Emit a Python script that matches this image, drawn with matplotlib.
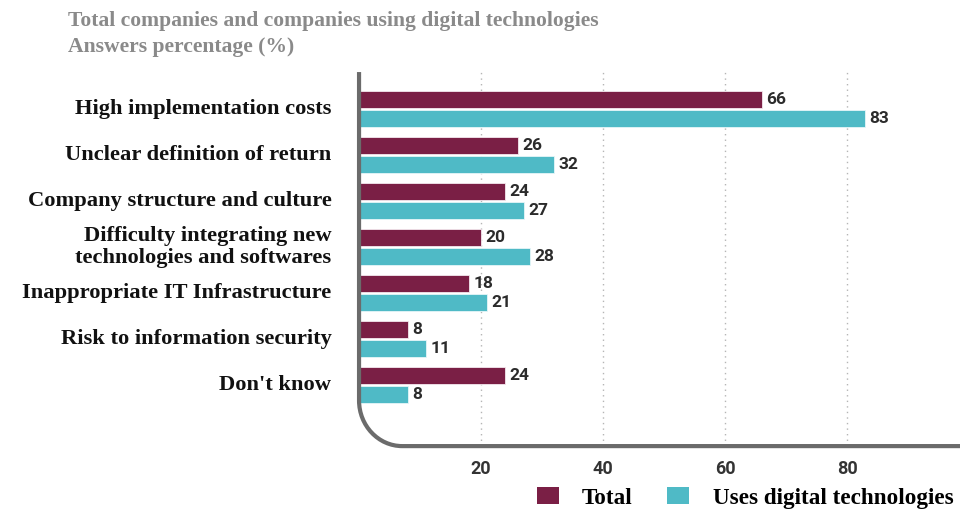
import numpy as np
import matplotlib.pyplot as plt
from matplotlib.path import Path
from matplotlib.patches import PathPatch, Patch

# ====================== DATA ======================
categories = [
    "High implementation costs",
    "Unclear definition of return",
    "Company structure and culture",
    "Difficulty integrating new\ntechnologies and softwares",
    "Inappropriate IT Infrastructure",
    "Risk to information security",
    "Don't know",
]
total = [66, 26, 24, 20, 18, 8, 24]
digital = [83, 32, 27, 28, 21, 11, 8]
x_ticks = [20, 40, 60, 80]

MAROON = "#7a1f45"
TEAL = "#4fbac6"
FRAME = "#6b6b6b"
SERIF = ["Liberation Serif", "DejaVu Serif"]
NARROW = ["Roboto", "DejaVu Sans"]

fig = plt.figure(figsize=(9.6, 5.11), dpi=100)
ax = fig.add_axes([0.374, 0.127, 0.626, 0.732])

y = np.arange(len(categories))
h = 0.37
off = 0.21
ax.barh(y - off, total, height=h, color=MAROON, edgecolor="#f4e8ee", linewidth=0.6, zorder=3)
ax.barh(y + off, digital, height=h, color=TEAL, edgecolor="#e6f6f8", linewidth=0.6, zorder=3)

for yi, t, d in zip(y, total, digital):
    ax.text(t + 0.7, yi - off, str(t), va="center", ha="left", fontsize=12.5,
            fontweight="bold", family=NARROW, color="#2b2b2b")
    ax.text(d + 0.7, yi + off, str(d), va="center", ha="left", fontsize=12.5,
            fontweight="bold", family=NARROW, color="#2b2b2b")

ax.set_xlim(0, 98.5)
ax.set_ylim(7.33, -0.80)
ax.set_xticks(x_ticks)
ax.set_xticklabels([str(v) for v in x_ticks], fontsize=13, fontweight="bold",
                   family=NARROW, color="#333333")
ax.tick_params(axis="x", length=0, pad=10)
ax.set_yticks([])
ax.grid(axis="x", linestyle=(0, (1, 3)), color="#b5b5b5", linewidth=1, zorder=0)
for s in ax.spines.values():
    s.set_visible(False)

# category labels
for yi, cat in zip(y, categories):
    ax.text(-0.046, yi, cat, transform=ax.get_yaxis_transform(), ha="right", va="center",
            fontsize=16.2, fontweight="bold", family=SERIF, color="#111111",
            linespacing=1.15)

# rounded frame (left + bottom)
rx, ry = 0.072, 0.122
k = 0.552
verts = [(0, 1), (0, ry), (0, ry * (1 - k)), (rx * (1 - k), 0), (rx, 0), (1, 0)]
codes = [Path.MOVETO, Path.LINETO, Path.CURVE4, Path.CURVE4, Path.CURVE4, Path.LINETO]
ax.add_patch(PathPatch(Path(verts, codes), transform=ax.transAxes, fill=False,
                       edgecolor=FRAME, linewidth=3, clip_on=False, zorder=4))

# title
fig.text(0.071, 0.958, "Total companies and companies using digital technologies",
         fontsize=15.6, fontweight="bold", family=SERIF, color="#8a8a8a", va="center")
fig.text(0.071, 0.908, "Answers percentage (%)",
         fontsize=15.6, fontweight="bold", family=SERIF, color="#8a8a8a", va="center")

# legend
handles = [Patch(facecolor=MAROON, label="Total"),
           Patch(facecolor=TEAL, label="Uses digital technologies")]
fig.legend(handles=handles, loc="center left", bbox_to_anchor=(0.559, 0.025), ncol=2,
           frameon=False, borderpad=0, borderaxespad=0, handlelength=0.95, handleheight=0.75,
           handletextpad=1.0, columnspacing=1.5,
           prop={"family": SERIF, "weight": "bold", "size": 16.7})

fig.savefig("out.png", dpi=100)
